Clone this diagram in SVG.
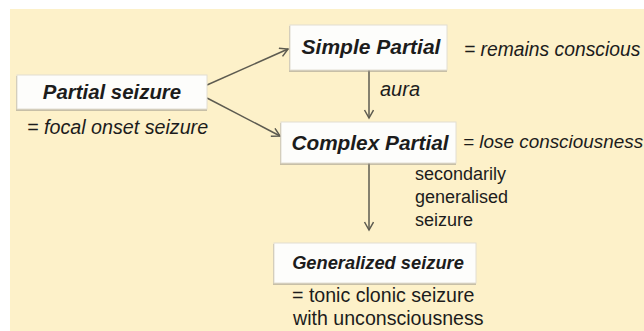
<svg xmlns="http://www.w3.org/2000/svg" width="644" height="331" viewBox="0 0 644 331">
<style>
.bg{fill:#fdf1c9}
.box{fill:#fdfdfb;stroke:#e2ded2;stroke-width:1}
.sh{fill:#9a968a;opacity:0.55}
.t{font-family:"Liberation Sans",Arial,sans-serif;font-style:italic;fill:#1c1c1c}
.u{font-style:normal}
.b{font-weight:bold}
.c{text-anchor:middle}
.edge{stroke:#5d5b50;stroke-width:1.5;fill:none}
</style>
<defs>
<marker id="ah" markerWidth="12" markerHeight="12" refX="9" refY="5" orient="auto" markerUnits="userSpaceOnUse">
<path d="M1,0.5 L9,5 L1,9.5" fill="none" stroke="#5d5b50" stroke-width="1.5"/>
</marker>
</defs>
<rect width="644" height="331" fill="#ffffff"/>
<rect class="bg" x="10" y="9" width="634" height="322"/>
<g id="connectors">
<line class="edge" x1="207" y1="85" x2="288" y2="49" marker-end="url(#ah)"/>
<line class="edge" x1="207" y1="98" x2="280" y2="136" marker-end="url(#ah)"/>
<line class="edge" x1="369" y1="70" x2="369" y2="118" marker-end="url(#ah)"/>
<line class="edge" x1="369" y1="163" x2="369" y2="230" marker-end="url(#ah)"/>
<text class="t" x="380" y="96" font-size="20">aura</text>
<text class="t u" font-size="18" x="415" y="180">secondarily</text>
<text class="t u" font-size="18" x="415" y="203">generalised</text>
<text class="t u" font-size="18" x="415" y="226">seizure</text>
</g>
<g id="partial-seizure">
<rect class="sh" x="16" y="76" width="191" height="35"/>
<rect class="box" x="17" y="75" width="190" height="34"/>
<text class="t b c" x="112" y="99" font-size="20.4">Partial seizure</text>
<text class="t" x="27" y="134" font-size="19.7">= focal onset seizure</text>
</g>
<g id="simple-partial">
<rect class="sh" x="289" y="26" width="158" height="46"/>
<rect class="box" x="290" y="25" width="157" height="45"/>
<text class="t b c" x="371" y="54" font-size="21">Simple Partial</text>
<text class="t" x="464" y="56" font-size="19.3">= remains conscious</text>
</g>
<g id="complex-partial">
<rect class="sh" x="280" y="123" width="176" height="42"/>
<rect class="box" x="281" y="122" width="175" height="41"/>
<text class="t b c" x="370" y="150" font-size="20.8">Complex Partial</text>
<text class="t" x="463" y="148" font-size="18.9">= lose consciousness</text>
</g>
<g id="generalized-seizure">
<rect class="sh" x="273" y="244" width="203" height="41"/>
<rect class="box" x="274" y="243" width="202" height="40"/>
<text class="t b c" x="378" y="269" font-size="18.3">Generalized seizure</text>
<text class="t u" x="292" y="302" font-size="19.6">= tonic clonic seizure</text>
<text class="t u" x="293" y="325" font-size="19.6">with unconsciousness</text>
</g>
</svg>
